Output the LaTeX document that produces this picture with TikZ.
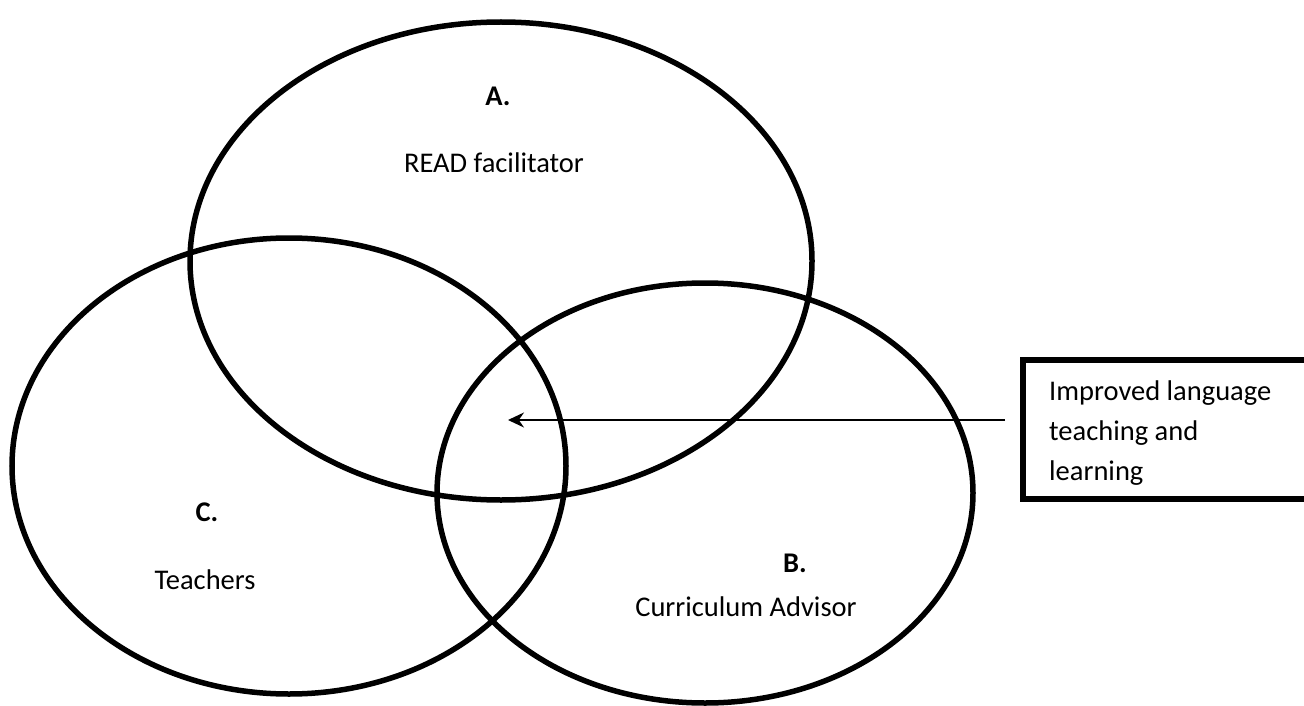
\documentclass[tikz,border=0pt]{standalone}
\usepackage{fontspec}
\setmainfont{Carlito}
\usetikzlibrary{arrows.meta}
\newcommand{\vennfont}{\fontsize{28.5}{40}\selectfont}
\tikzset{
  venn/.style={line width=5.5pt},
  txt/.style={font=\vennfont},
  lbl/.style={font=\vennfont\bfseries},
  goalbox/.style={draw,line width=5.5pt,outer sep=0pt,inner sep=0pt,
    minimum width=300pt,minimum height=139pt,anchor=north west}
}
\begin{document}
\begin{tikzpicture}[x=1pt,y=-1pt,>={Stealth[length=16pt,width=15pt]}]
	\useasboundingbox (0,0) rectangle (1304,706);
	% the three sets
	\draw[venn] (501,261) ellipse (311 and 239);
	\draw[venn] (289,466) ellipse (277 and 228);
	\draw[venn] (705,493) ellipse (268 and 210);
	\node[lbl] (lblA) at (498,96) {A.};
	\node[txt] (readfac) at (494,163) {READ facilitator};
	\node[lbl] (lblC) at (207,512) {C.};
	\node[txt] (teachers) at (205,580) {Teachers};
	\node[lbl] (lblB) at (795,563) {B.};
	\node[txt] (advisor) at (746,607) {Curriculum Advisor};
	% outcome
	\node[goalbox] (goal) at (1023,360) {};
	\begin{scope}
		\clip (1023,360) rectangle (1320,487);
		\node[txt,anchor=north west,inner sep=0pt,align=left] (goaltext) at (1049,381)
			{Improved language\\teaching and\\learning};
	\end{scope}
	\coordinate (centre) at (508,420);
	\draw[->,line width=2pt] ([xshift=-18pt,yshift=9.5pt]goal.west) -- (centre);
\end{tikzpicture}
\end{document}
